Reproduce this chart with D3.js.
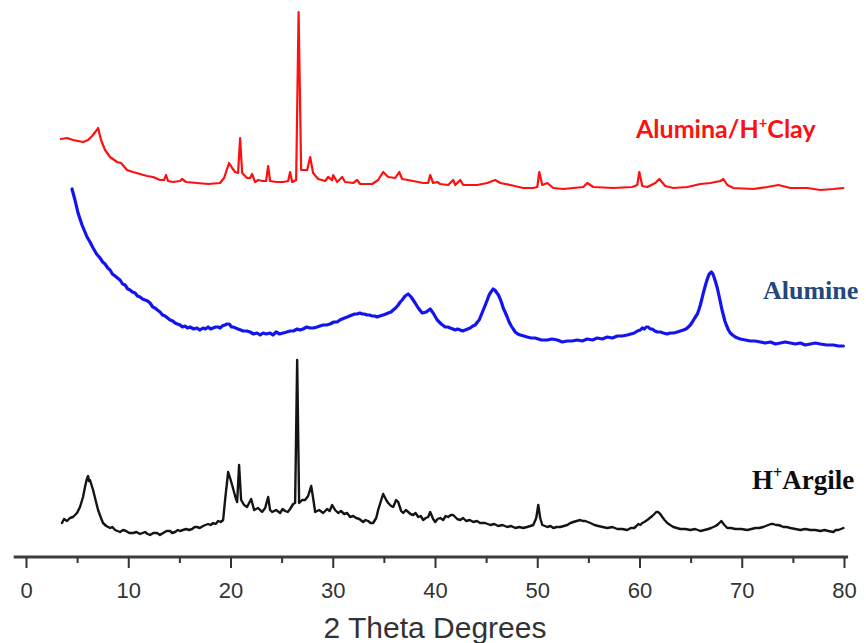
<!DOCTYPE html>
<html>
<head>
<meta charset="utf-8">
<script src="https://cdn.jsdelivr.net/npm/d3@7"></script>
<style>
  html, body { margin: 0; padding: 0; background: #fff; }
  svg { display: block; }
</style>
</head>
<body>
<svg id="chart" width="866" height="643"></svg>
<script>
// XRD patterns, stacked (intensity in arbitrary units, offsets included)
// each point: [2θ (degrees), intensity (a.u.)]

const aluminaClay = [
  [3.42,418],[4.01,419],[4.60,417],[5.09,416],[5.58,415],[6.07,417],[6.46,421],[6.85,426],
  [7.05,429],[7.34,417],[7.73,407],[8.22,400],[8.90,395],[9.29,394],[9.88,387],[10.47,385],
  [11.15,383],[11.84,381],[12.43,380],[13.11,377],[13.50,377],[13.70,382],[13.89,376],[14.38,375],
  [15.07,376],[15.26,378],[15.66,375],[16.73,374],[17.81,373],[18.98,374],[19.37,379],[19.86,394],
  [20.16,389],[20.45,385],[20.74,384],[20.94,419],[21.14,384],[21.62,379],[21.92,379],[22.11,383],
  [22.41,375],[22.70,377],[23.09,376],[23.48,376],[23.68,391],[23.87,376],[24.46,375],[25.15,375],
  [25.64,376],[25.83,385],[26.03,375],[26.42,377],[26.66,545],[26.91,387],[27.20,387],[27.50,387],
  [27.79,400],[28.08,384],[28.57,378],[29.26,376],[29.55,380],[29.94,377],[30.04,382],[30.43,375],
  [30.92,380],[31.21,375],[32.00,374],[32.39,377],[32.68,373],[33.86,373],[34.44,377],[34.93,385],
  [35.42,380],[36.11,379],[36.50,385],[36.79,378],[37.87,376],[38.85,374],[39.33,374],[39.53,382],
  [39.82,374],[40.22,375],[40.51,373],[41.29,372],[41.78,377],[41.98,372],[42.47,377],[42.76,372],
  [44.13,372],[45.11,374],[45.89,377],[46.38,374],[47.36,372],[48.63,369],[49.61,369],[50.00,370],
  [50.20,385],[50.49,372],[50.98,374],[51.57,369],[52.54,368],[53.52,369],[54.50,370],[54.89,374],
  [55.48,370],[57.44,369],[59.30,370],[59.78,372],[59.98,385],[60.27,371],[60.76,370],[61.55,374],
  [61.94,378],[62.52,371],[63.31,369],[64.68,370],[65.95,373],[66.93,374],[67.91,376],[68.20,378],
  [68.59,372],[69.18,369],[71.14,368],[72.50,370],[73.58,372],[74.76,369],[76.42,369],[77.69,367],
  [78.96,368],[79.94,369]
];

const alumine = [
  [4.50,368],[4.79,357],[5.09,344],[5.48,332],[5.97,320],[6.26,315],[6.56,309],[6.90,303],
  [7.24,299],[7.50,295],[7.73,293],[8.00,289],[8.22,287],[8.45,283],[8.71,281],[8.95,279],
  [9.20,277],[9.45,273],[9.69,272],[9.95,268],[10.18,267],[10.40,265],[10.67,264],[10.90,261],
  [11.15,260],[11.40,258],[11.64,257],[11.90,256],[12.13,254],[12.40,250],[12.62,249],[12.85,247],
  [13.11,245],[13.35,242],[13.60,241],[13.85,239],[14.09,237],[14.35,236],[14.58,234],[14.80,233],
  [15.07,232],[15.30,230],[15.56,231],[15.80,229],[16.05,230],[16.40,228],[16.73,229],[17.00,227],
  [17.32,229],[17.55,228],[17.81,230],[18.05,228],[18.30,229],[18.55,230],[18.79,230],[19.00,229],
  [19.18,231],[19.45,232],[19.67,233],[19.85,233],[19.96,232],[20.10,230],[20.25,230],[20.50,229],
  [20.74,228],[21.00,227],[21.23,226],[21.60,226],[21.92,225],[22.25,223],[22.60,224],[22.90,222],
  [23.19,224],[23.50,223],[23.87,224],[24.15,222],[24.46,225],[24.80,223],[25.15,224],[25.50,225],
  [25.83,226],[26.15,226],[26.52,228],[26.80,227],[27.10,228],[27.45,230],[27.79,229],[28.10,229],
  [28.47,230],[28.75,231],[29.06,232],[29.40,232],[29.75,233],[30.10,235],[30.43,235],[30.70,237],
  [30.92,238],[31.15,239],[31.41,240],[31.65,241],[31.90,242],[32.15,243],[32.39,243],[32.65,244],
  [32.88,243],[33.10,243],[33.37,242],[33.60,242],[33.86,241],[34.10,241],[34.34,240],[34.60,241],
  [34.93,242],[35.20,243],[35.42,244],[35.70,245],[35.91,247],[36.15,249],[36.40,252],[36.60,255],
  [36.79,257],[37.08,261],[37.38,263],[37.67,260],[38.06,254],[38.36,249],[38.75,244],[39.14,245],
  [39.53,248],[39.82,244],[40.22,237],[40.61,233],[41.00,230],[41.25,230],[41.49,229],[41.75,228],
  [41.98,227],[42.20,228],[42.47,227],[42.70,226],[42.95,227],[43.20,228],[43.44,229],[43.70,231],
  [43.93,232],[44.15,235],[44.32,237],[44.52,242],[44.72,247],[44.92,252],[45.11,257],[45.25,261],
  [45.40,264],[45.55,266],[45.69,268],[45.85,267],[45.99,265],[46.20,262],[46.38,258],[46.52,254],
  [46.67,249],[46.85,245],[47.06,240],[47.25,235],[47.46,231],[47.65,228],[47.85,225],[48.10,223],
  [48.34,222],[48.70,221],[49.02,220],[49.40,219],[49.80,219],[50.40,217],[50.98,217],[51.45,218],
  [51.96,217],[52.45,215],[52.94,216],[53.40,216],[53.91,217],[54.40,216],[54.89,218],[55.40,217],
  [55.87,219],[56.35,218],[56.85,220],[57.35,219],[57.83,221],[58.30,221],[58.81,222],[59.15,223],
  [59.49,224],[59.80,226],[60.08,227],[60.27,229],[60.47,228],[60.66,230],[60.86,230],[61.05,228],
  [61.25,228],[61.50,226],[61.74,225],[62.05,225],[62.33,224],[62.70,223],[63.01,224],[63.35,224],
  [63.70,225],[64.00,226],[64.29,227],[64.55,228],[64.77,230],[64.97,232],[65.17,235],[65.40,239],
  [65.66,243],[65.80,247],[65.95,252],[66.10,258],[66.24,264],[66.40,270],[66.54,275],[66.70,280],
  [66.83,283],[67.03,285],[67.18,283],[67.32,279],[67.47,274],[67.61,269],[67.76,262],[67.91,255],
  [68.05,248],[68.20,242],[68.35,236],[68.49,232],[68.70,227],[68.88,224],[69.10,222],[69.37,220],
  [69.60,219],[69.86,218],[70.35,217],[70.84,216],[71.30,216],[71.82,215],[72.30,214],[72.80,215],
  [73.30,213],[73.78,214],[74.25,215],[74.76,214],[75.25,213],[75.73,214],[76.20,212],[76.71,213],
  [77.20,214],[77.69,213],[78.30,212],[78.96,212],[79.45,211],[79.94,211]
];

const hArgile = [
  [3.52,34],[3.72,38],[4.01,36],[4.30,39],[4.60,40],[4.99,44],[5.28,50],[5.58,60],[5.77,70],
  [5.95,78],[6.07,81],[6.16,76],[6.26,77],[6.56,67],[6.85,55],[7.05,47],[7.30,40],[7.53,34],
  [7.85,31],[8.22,29],[8.45,30],[8.71,27],[8.95,26],[9.20,25],[9.50,27],[9.78,26],[10.10,24],
  [10.47,24],[10.80,25],[11.15,23],[11.40,24],[11.64,25],[11.90,23],[12.13,22],[12.45,24],
  [12.82,24],[13.10,22],[13.41,24],[13.75,26],[14.09,26],[14.30,24],[14.58,25],[14.85,27],
  [15.07,26],[15.35,27],[15.66,28],[15.95,27],[16.24,28],[16.50,30],[16.73,30],[17.00,29],
  [17.32,31],[17.55,32],[17.81,33],[18.05,32],[18.30,34],[18.55,33],[18.79,36],[19.05,35],
  [19.28,37],[19.47,57],[19.77,85],[19.96,79],[20.16,72],[20.45,61],[20.65,55],[20.84,92],
  [21.04,57],[21.33,52],[21.62,50],[22.02,58],[22.31,47],[22.70,49],[23.09,45],[23.39,49],
  [23.68,60],[23.87,47],[24.07,45],[24.46,47],[24.85,44],[25.10,48],[25.34,46],[25.60,45],
  [25.83,48],[26.13,53],[26.32,54],[26.52,197],[26.71,54],[27.01,57],[27.30,57],[27.59,61],
  [27.89,71],[28.08,59],[28.28,45],[28.67,47],[29.06,44],[29.45,48],[29.70,46],[29.94,52],
  [30.23,47],[30.53,44],[30.80,46],[31.12,43],[31.40,44],[31.70,40],[32.00,41],[32.29,39],
  [32.60,38],[32.97,35],[33.20,37],[33.46,36],[33.70,34],[33.95,34],[34.25,39],[34.44,47],
  [34.74,57],[34.93,63],[35.23,57],[35.42,54],[35.71,51],[35.91,50],[36.20,57],[36.40,55],
  [36.69,46],[36.89,44],[37.15,47],[37.38,45],[37.60,43],[37.87,42],[38.10,44],[38.36,40],
  [38.60,41],[38.85,37],[39.10,39],[39.33,40],[39.53,45],[39.82,38],[40.02,35],[40.25,38],
  [40.51,39],[40.80,37],[41.05,41],[41.29,40],[41.55,42],[41.78,42],[42.17,38],[42.47,37],
  [42.75,39],[43.05,36],[43.40,37],[43.74,35],[44.10,36],[44.42,34],[44.90,34],[45.40,32],
  [45.80,33],[46.18,31],[46.60,32],[47.06,30],[47.45,31],[47.85,29],[48.25,30],[48.63,29],
  [49.00,30],[49.32,31],[49.61,32],[49.90,39],[50.10,52],[50.29,39],[50.49,32],[50.75,31],
  [50.98,30],[51.30,31],[51.57,29],[51.90,30],[52.25,30],[52.60,31],[52.94,32],[53.25,34],
  [53.52,35],[53.85,36],[54.21,37],[54.45,36],[54.70,36],[54.95,35],[55.19,34],[55.60,32],
  [55.97,31],[56.40,30],[56.85,29],[57.35,30],[57.83,28],[58.30,28],[58.81,27],[59.15,29],
  [59.49,29],[59.70,31],[59.88,33],[60.08,32],[60.27,34],[60.47,35],[60.76,37],[61.00,39],
  [61.25,41],[61.45,43],[61.64,45],[61.80,45],[61.94,44],[62.10,42],[62.23,40],[62.45,37],
  [62.72,34],[63.00,32],[63.31,30],[63.65,29],[63.99,28],[64.50,28],[64.97,27],[65.45,28],
  [65.95,26],[66.35,27],[66.73,28],[67.00,29],[67.22,30],[67.45,31],[67.71,33],[68.00,36],
  [68.30,32],[68.59,29],[68.95,29],[69.37,28],[69.95,28],[70.55,27],[70.95,28],[71.33,29],
  [71.70,29],[72.11,30],[72.35,31],[72.60,32],[72.85,33],[73.09,33],[73.35,32],[73.58,32],
  [73.85,31],[74.07,30],[74.40,30],[74.76,29],[75.25,28],[75.73,27],[76.20,28],[76.71,27],
  [77.20,27],[77.69,26],[78.10,27],[78.47,26],[78.96,25],[79.20,27],[79.45,27],[79.70,28],
  [79.94,29]
];

// stacking order, colours and labels of the three patterns
const patternNames = ["Alumina/H+Clay", "Alumine", "H+Argile"];
const patternColors = ["#ff1010", "#1414f0", "#141414"];

const xTicks = [0, 10, 20, 30, 40, 50, 60, 70, 80];
const xMinorTicks = [5, 15, 25, 35, 45, 55, 65, 75];
const xTitle = "2 Theta Degrees";

const svg = d3.select("#chart");

const x = d3.scaleLinear().domain([0, 80]).range([26, 844]);
const y = d3.scaleLinear().domain([0, 550]).range([557, 7]);

const line = d3.line()
  .x(d => x(d[0]))
  .y(d => y(d[1]))
  .curve(d3.curveLinear);

const series = [
  { data: aluminaClay, color: patternColors[0], width: 2.2 },
  { data: alumine,     color: patternColors[1], width: 3.2 },
  { data: hArgile,     color: patternColors[2], width: 2.4 }
];

svg.append("g")
  .selectAll("path")
  .data(series)
  .join("path")
  .attr("fill", "none")
  .attr("stroke", d => d.color)
  .attr("stroke-width", d => d.width)
  .attr("stroke-linejoin", "round")
  .attr("stroke-linecap", "round")
  .attr("d", d => line(d.data));

// bottom axis
const axisG = svg.append("g").attr("transform", `translate(0,${y(0)})`);

axisG.append("line")
  .attr("x1", x(-1.2)).attr("x2", x(80.4))
  .attr("y1", 0).attr("y2", 0)
  .attr("stroke", "#3c3c3c")
  .attr("stroke-width", 3);

axisG.append("g")
  .call(d3.axisBottom(x).tickValues(xMinorTicks).tickSize(6).tickFormat(""))
  .call(g => g.select(".domain").remove())
  .call(g => g.selectAll(".tick line").attr("stroke", "#333").attr("stroke-width", 2));

axisG.append("g")
  .call(d3.axisBottom(x).tickValues(xTicks).tickSize(11).tickPadding(14).tickFormat(d3.format("d")))
  .call(g => g.select(".domain").remove())
  .call(g => g.selectAll(".tick line").attr("stroke", "#333").attr("stroke-width", 2))
  .call(g => g.selectAll(".tick text")
    .attr("fill", "#333")
    .attr("font-family", "'Liberation Sans', Arial, sans-serif")
    .attr("font-size", 22)
    .attr("dy", "0.71em"));

svg.append("text")
  .attr("x", (x(0) + x(80)) / 2)
  .attr("y", 638)
  .attr("text-anchor", "middle")
  .attr("font-family", "'Liberation Sans', Arial, sans-serif")
  .attr("font-size", 30)
  .attr("fill", "#333")
  .text(xTitle);

// pattern labels (superscript "+")
function label(parts, opts) {
  const t = svg.append("text")
    .attr("x", opts.x)
    .attr("y", opts.y)
    .attr("font-family", opts.font)
    .attr("font-size", opts.size)
    .attr("font-weight", opts.weight)
    .attr("fill", opts.color);
  parts.forEach(p => {
    if (p.sup) {
      t.append("tspan").attr("font-size", opts.size * 0.6).attr("dy", -opts.size * 0.4).text(p.s);
    } else {
      t.append("tspan").attr("dy", p.after ? opts.size * 0.4 : 0).text(p.s);
    }
  });
}

label([{ s: "Alumina/H" }, { s: "+", sup: true }, { s: "Clay", after: true }],
  { x: 636, y: 138, font: "Lato, 'Liberation Sans', sans-serif", size: 25, weight: 700, color: patternColors[0] });

label([{ s: "Alumine" }],
  { x: 763, y: 299, font: "'Liberation Serif', 'Times New Roman', serif", size: 26, weight: 700, color: "#24487c" });

label([{ s: "H" }, { s: "+", sup: true }, { s: "Argile", after: true }],
  { x: 752, y: 489, font: "'Liberation Serif', 'Times New Roman', serif", size: 27, weight: 700, color: "#0d0d0d" });
</script>
</body>
</html>
